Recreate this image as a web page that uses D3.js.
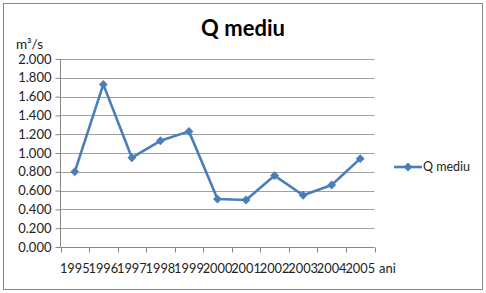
<!DOCTYPE html>
<html>
<head>
<meta charset="utf-8">
<script src="https://cdn.jsdelivr.net/npm/d3@7"></script>
<style>
  body { margin: 0; background: #fff; }
  svg text { font-family: Lato, "Open Sans", sans-serif; }
</style>
</head>
<body>
<div id="chart"></div>
<script>
// data
const years = ["1995","1996","1997","1998","1999","2000","2001","2002","2003","2004","2005"];
const qMediu = [0.80, 1.73, 0.95, 1.13, 1.23, 0.51, 0.50, 0.76, 0.55, 0.66, 0.94];
const yTicks = [0, 0.2, 0.4, 0.6, 0.8, 1.0, 1.2, 1.4, 1.6, 1.8, 2.0];

const width = 486, height = 293;
const plot = { left: 60.5, right: 374.5, top: 59, bottom: 247 };
const blue = "#4a7ebb";

const svg = d3.select("#chart").append("svg")
  .attr("width", width).attr("height", height);

// outer frame
svg.append("rect")
  .attr("x", 3.5).attr("y", 3.5)
  .attr("width", 479).attr("height", 286)
  .attr("fill", "#fff").attr("stroke", "#868686");

const x = d3.scaleBand().domain(years).range([plot.left, plot.right]);
const y = d3.scaleLinear().domain([0, 2]).range([plot.bottom, plot.top]);

// gridlines
svg.append("g")
  .selectAll("line")
  .data(yTicks.filter(d => d > 0))
  .join("line")
  .attr("x1", plot.left).attr("x2", plot.right)
  .attr("y1", d => Math.round(y(d)) + 0.5).attr("y2", d => Math.round(y(d)) + 0.5)
  .attr("stroke", "#a0a0a0");

// y axis
const yAxis = svg.append("g")
  .attr("transform", `translate(${plot.left},0)`)
  .call(d3.axisLeft(y).tickValues(yTicks).tickSize(5).tickPadding(4)
    .tickFormat(d => d3.format(".3f")(d)));
yAxis.selectAll("line").attr("stroke", "#868686");
yAxis.select(".domain").attr("stroke", "#868686").attr("d", `M0,${plot.top}V${plot.bottom}`);
yAxis.selectAll("text").attr("font-size", 13).attr("fill", "#222");

// x axis
const xAxis = svg.append("g")
  .attr("transform", `translate(0,${plot.bottom + 0.5})`)
  .call(d3.axisBottom(x).tickSize(0).tickPadding(16));
xAxis.select(".domain").attr("stroke", "#868686").attr("d", `M${plot.left},0H${plot.right}`);
xAxis.selectAll("text").attr("font-size", 12.8).attr("fill", "#222");
xAxis.append("g").selectAll("line")
  .data(years.map((d, i) => i).concat([years.length]))
  .join("line")
  .attr("x1", i => Math.round(plot.left + i * x.step()) + 0.5)
  .attr("x2", i => Math.round(plot.left + i * x.step()) + 0.5)
  .attr("y1", 0).attr("y2", 5)
  .attr("stroke", "#868686");

// axis titles
svg.append("text").attr("x", 16).attr("y", 49)
  .attr("font-size", 13.5).attr("fill", "#222").text("m³/s");
svg.append("text").attr("x", 379).attr("y", 273)
  .attr("font-size", 13).attr("fill", "#222").text("ani");

// title
svg.append("text").attr("x", 243).attr("y", 36)
  .attr("text-anchor", "middle").attr("font-size", 22).attr("font-weight", "bold")
  .attr("fill", "#000").text("Q mediu");

// series
const cx = (d, i) => x(years[i]) + x.bandwidth() / 2;
svg.append("path")
  .datum(qMediu)
  .attr("fill", "none").attr("stroke", blue).attr("stroke-width", 2.6)
  .attr("stroke-linejoin", "round")
  .attr("d", d3.line().x(cx).y(d => y(d)));

const diamond = d3.symbol().type(d3.symbolDiamond2).size(50);
svg.append("g").selectAll("path")
  .data(qMediu)
  .join("path")
  .attr("transform", (d, i) => `translate(${cx(d, i)},${y(d)})`)
  .attr("d", diamond)
  .attr("fill", blue);

// legend
const lg = svg.append("g").attr("transform", "translate(394,167)");
lg.append("line").attr("x1", 0).attr("x2", 28).attr("stroke", blue).attr("stroke-width", 2.6);
lg.append("path").attr("transform", "translate(14,0)").attr("d", diamond).attr("fill", blue);
lg.append("text").attr("x", 29).attr("y", 4).attr("font-size", 12.5).attr("fill", "#222").text("Q mediu");
</script>
</body>
</html>
